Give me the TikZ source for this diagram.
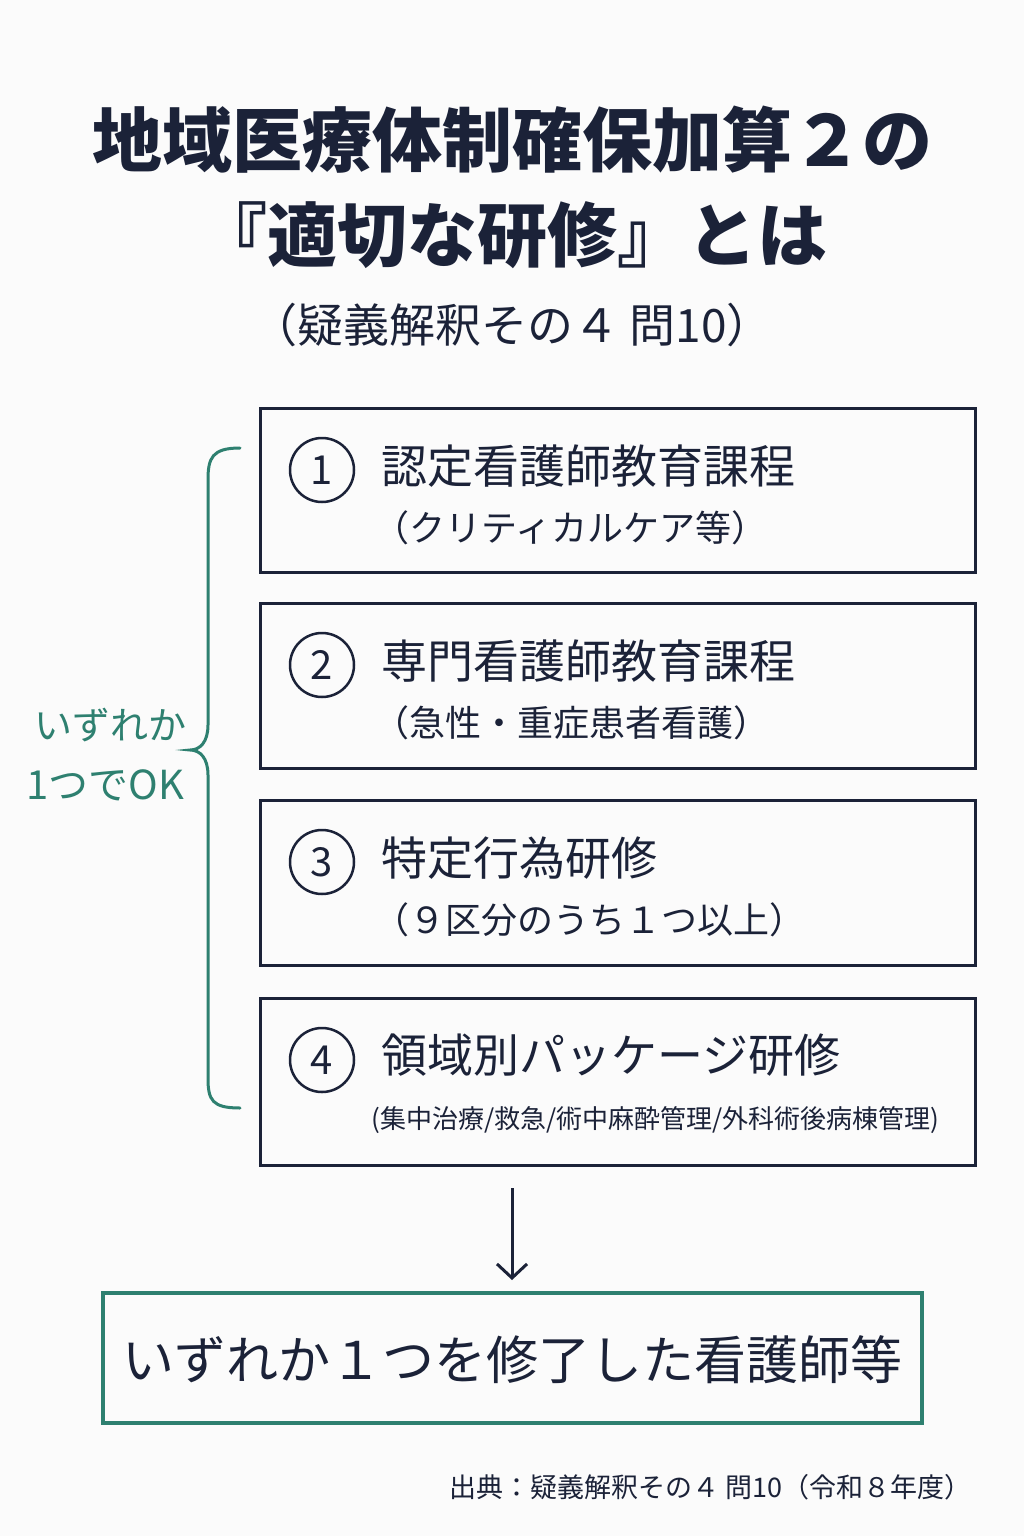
\documentclass[tikz,border=0pt]{standalone}
\usepackage{fontspec}
\setmainfont{Noto Sans CJK JP}
\usetikzlibrary{arrows.meta}
\definecolor{navy}{HTML}{1B2238}
\definecolor{teal}{HTML}{2E8070}
\begin{document}
\begin{tikzpicture}[x=1pt,y=-1pt,
  box/.style={draw=navy,line width=3pt},
  num/.style={circle,draw=navy,line width=2.5pt,minimum size=64pt,inner sep=0pt,text=navy,font=\fontsize{40}{40}\selectfont},
  main/.style={anchor=west,text=navy,font=\fontsize{46}{50}\selectfont},
  sub/.style={anchor=west,text=navy,font=\fontsize{36}{40}\selectfont}]
\fill[white!97!gray] (0,0) rectangle (1024,1536);
\useasboundingbox (0,0) rectangle (1024,1536);
\node[text=navy,font=\fontsize{70}{72}\selectfont\bfseries] (t1) at (512,140) {地域医療体制確保加算２の};
\node[text=navy,font=\fontsize{70}{72}\selectfont\bfseries] (t2) at (512,235) {『適切な研修』とは};
\node[text=navy,font=\fontsize{46}{48}\selectfont] (t3) at (512,325) {（疑義解釈その４ 問10）};
\foreach \i/\ya/\yb/\m/\s in {1/408/572/認定看護師教育課程/（クリティカルケア等）,
  2/603/768/専門看護師教育課程/（急性・重症患者看護）,
  3/800/965/特定行為研修/（９区分のうち１つ以上）}{
  \draw[box] (260,\ya) rectangle (975,\yb);
  \node[num] (n\i) at (322,\ya+62) {\i};
  \node[main] (m\i) at (378,\ya+58) {\m};
  \node[sub] (s\i) at (370,\ya+120) {\s};
}
\draw[box] (260,998) rectangle (975,1165);
\node[num] (n4) at (322,1060) {4};
\node[main] (m4) at (378,1055) {領域別パッケージ研修};
\node[sub,font=\fontsize{26}{30}\selectfont] (s4) at (368,1120) {(集中治療/救急/術中麻酔管理/外科術後病棟管理)};
\draw[teal,line width=3pt,line cap=round] (240,448) .. controls (212,448) and (208,458) .. (208,480) -- (208,725) .. controls (208,742) and (200,750) .. (190,750) .. controls (200,750) and (208,758) .. (208,775) -- (208,1078) .. controls (208,1100) and (212,1108) .. (240,1108);
\node[text=teal,font=\fontsize{38}{40}\selectfont] (l1) at (110,725) {いずれか};
\node[text=teal,font=\fontsize{40}{40}\selectfont] (l2) at (105,785) {1つでOK};
\coordinate (a1) at (512,1188);
\coordinate (a2) at (512,1280);
\draw[navy,line width=3pt,-{Straight Barb[length=14pt,width=30pt]}] (a1) -- (a2);
\draw[teal,line width=4pt] (103,1293) rectangle (922,1423);
\node[text=navy,font=\fontsize{52}{56}\selectfont] (res) at (512,1360) {いずれか１つを修了した看護師等};
\node[anchor=east,text=navy,font=\fontsize{27}{30}\selectfont] (src) at (975,1487) {出典：疑義解釈その４ 問10（令和８年度）};
\end{tikzpicture}
\end{document}
